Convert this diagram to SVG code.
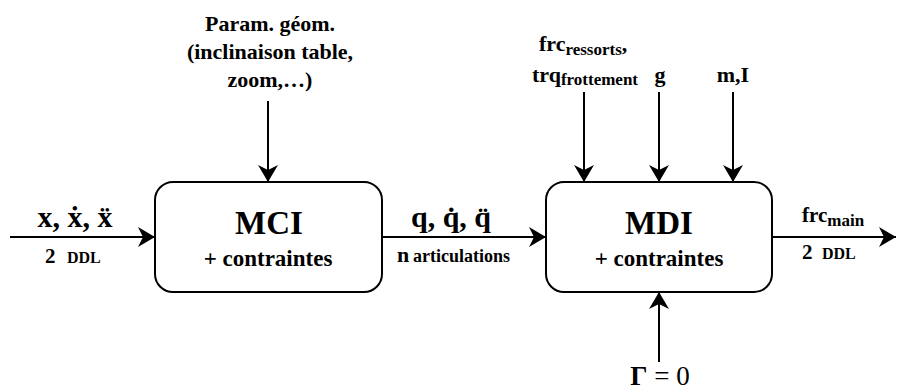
<svg xmlns="http://www.w3.org/2000/svg" width="897" height="392" viewBox="0 0 897 392">
<style>
text{font-family:"Liberation Serif","Times New Roman",serif;font-weight:bold;fill:#000;text-anchor:middle}
.st{text-anchor:start}
.box{fill:#fff;stroke:#000;stroke-width:2}
.c{stroke:#000;stroke-width:2;fill:none;marker-end:url(#ah)}
.t22{font-size:22px}
.sub{font-size:17px}
</style>
<defs>
<marker id="ah" markerUnits="userSpaceOnUse" markerWidth="18" markerHeight="20" refX="17" refY="10" orient="auto">
<path d="M0,0 L17,10 L0,20 L5,10 Z" fill="#000"/>
</marker>
</defs>
<g id="connectors">
<line class="c" x1="10" y1="237" x2="155" y2="237"/>
<line class="c" x1="382" y1="237" x2="546" y2="237"/>
<line class="c" x1="772" y1="237" x2="896" y2="237"/>
<line class="c" x1="268" y1="101" x2="268" y2="182"/>
<line class="c" x1="584" y1="92" x2="584" y2="182"/>
<line class="c" x1="659" y1="92" x2="659" y2="182"/>
<line class="c" x1="733" y1="92" x2="733" y2="182"/>
<line class="c" x1="659" y1="362" x2="659" y2="292"/>
</g>
<g id="mci">
<rect class="box" x="155" y="182" width="227" height="110" rx="18"/>
<text x="269" y="234" font-size="33">MCI</text>
<text x="268" y="266" font-size="23">+ contraintes</text>
</g>
<g id="mdi">
<rect class="box" x="546" y="182" width="226" height="110" rx="18"/>
<text x="659" y="234" font-size="33">MDI</text>
<text x="659" y="266" font-size="23">+ contraintes</text>
</g>
<g id="labels">
<text x="75" y="227" font-size="30">x, ẋ, ẍ</text>
<text class="st" x="45" y="263" font-size="21">2<tspan x="67" font-size="16">DDL</tspan></text>
<text x="451" y="227" font-size="30">q, q̇, q̈</text>
<text class="st" x="397" y="262" font-size="22">n<tspan x="413" font-size="18">articulations</tspan></text>
<text class="st" x="802" y="222" font-size="21">frc<tspan class="sub" dy="4">main</tspan></text>
<text class="st" x="802" y="259" font-size="21">2<tspan x="822" font-size="16">DDL</tspan></text>
<text x="270" y="31" class="t22">Param. géom.</text>
<text x="270" y="59" class="t22">(inclinaison table,</text>
<text x="270" y="87" class="t22">zoom,…)</text>
<text class="st t22" x="539" y="51">frc<tspan class="sub" dy="4">ressorts</tspan><tspan dy="-4">,</tspan></text>
<text class="st t22" x="532" y="82">trq<tspan class="sub" dy="3">frottement</tspan></text>
<text x="660" y="82" class="t22">g</text>
<text x="733" y="82" class="t22">m,I</text>
<text x="660" y="385" font-size="27" style="font-weight:normal"><tspan style="font-weight:bold">Γ</tspan> = 0</text>
</g>
</svg>
